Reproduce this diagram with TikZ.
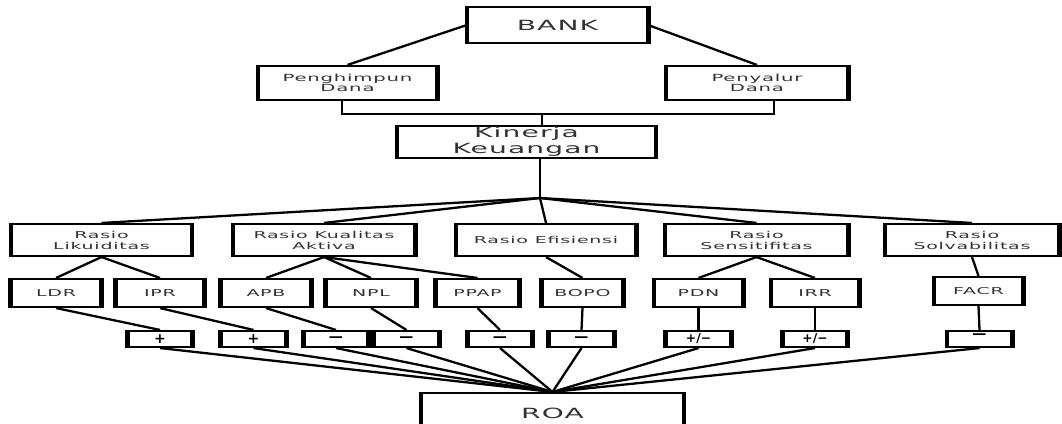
\documentclass[tikz,border=0pt]{standalone}
\usepackage{fontspec}
\setmainfont{DejaVu Sans}[FakeStretch=2.0, LetterSpace=8]
\newfontfamily\tandafont{DejaVu Sans}
\usepackage{tikz}
\definecolor{Teks}{RGB}{50,50,50}
\newcommand{\hurufbesar}{\fontsize{8}{9}\selectfont}
\newcommand{\hurufsedang}{\fontsize{5.6}{5.7}\selectfont}
\newcommand{\hurufkecil}{\fontsize{5.4}{6.3}\selectfont}
\tikzset{
  kotak/.style={draw=black, line width=1.2pt, inner sep=0pt, align=center, text=Teks,
    append after command={
      (\tikzlastnode.north west) edge[draw=black, line width=2.8pt] (\tikzlastnode.south west)
      (\tikzlastnode.north east) edge[draw=black, line width=2.8pt] (\tikzlastnode.south east)}},
  rasio/.style={kotak, minimum height=0.64cm, font=\hurufkecil},
  indikator/.style={kotak, minimum height=0.56cm, font=\hurufkecil},
  tanda/.style={kotak, minimum width=1.26cm, minimum height=0.32cm, text=black,
    font=\tandafont\bfseries\fontsize{8}{8}\selectfont},
  garis/.style={draw=black, line width=1.3pt},
}

\begin{document}
\begin{tikzpicture}[x=0.02cm, y=-0.02cm]
  \useasboundingbox (0,0) rectangle (1062,423);
  \clip (0,0) rectangle (1062,423);

  % bank dan fungsinya
  \node[kotak, minimum width=3.58cm, minimum height=0.72cm, font=\hurufbesar] (bank) at (557.5,25) {BANK};
  \node[kotak, minimum width=3.54cm, minimum height=0.68cm, font=\hurufsedang] (hmp) at (347.5,83) {Penghimpun\\Dana};
  \node[kotak, minimum width=3.6cm, minimum height=0.68cm, font=\hurufsedang] (slr) at (757,83) {Penyalur\\Dana};
  \node[kotak, minimum width=5.14cm, minimum height=0.64cm, font=\fontsize{8}{9}\selectfont] (kin) at (526.5,142) {Kinerja\\Keuangan};
  \coordinate (bus) at (542,114);
  \coordinate (j) at (540,198);

  % rasio
  \node[rasio, minimum width=3.58cm] (lik) at (101.5,240) {Rasio\\Likuiditas};
  \node[rasio, minimum width=3.6cm] (kual) at (324,240) {Rasio Kualitas\\Aktiva};
  \node[rasio, minimum width=3.56cm] (efi) at (546,240) {Rasio Efisiensi};
  \node[rasio, minimum width=3.62cm] (sen) at (756.5,240) {Rasio\\Sensitifitas};
  \node[rasio, minimum width=3.44cm] (sol) at (972,240) {Rasio\\Solvabilitas};

  % indikator
  \node[indikator, minimum width=1.76cm] (ldr) at (56,293) {LDR};
  \node[indikator, minimum width=1.72cm] (ipr) at (160,293) {IPR};
  \node[indikator, minimum width=1.76cm] (apb) at (266,293) {APB};
  \node[indikator, minimum width=1.76cm] (npl) at (371,293) {NPL};
  \node[indikator, minimum width=1.62cm] (ppap) at (477.5,293) {PPAP};
  \node[indikator, minimum width=1.58cm] (bopo) at (582.5,293) {BOPO};
  \node[indikator, minimum width=1.74cm] (pdn) at (698.5,293) {PDN};
  \node[indikator, minimum width=1.72cm] (irr) at (815,293) {IRR};
  \node[indikator, minimum width=1.74cm] (facr) at (978.5,291) {FACR};

  % tanda pengaruh
  \node[tanda] (s1) at (160,339) {+};
  \node[tanda] (s2) at (253.5,339) {+};
  \node[tanda] (s3) at (336,339) {—};
  \node[tanda] (s4) at (406.5,339) {—};
  \node[tanda] (s5) at (500,339) {—};
  \node[tanda] (s6) at (581.5,339) {—};
  \node[tanda, font=\tandafont\bfseries\fontsize{7}{7}\selectfont] (s7) at (698.5,339) {+/−};
  \node[tanda, font=\tandafont\bfseries\fontsize{7}{7}\selectfont] (s8) at (815,339) {+/−};
  \node[tanda] (s9) at (979.5,339) {\raisebox{0.1cm}{—}};

  \node[kotak, minimum width=5.22cm, minimum height=0.8cm, font=\hurufbesar] (roa) at (552.5,413) {ROA};

  % garis
  \draw[garis] (bank.west) -- (hmp.north);
  \draw[garis] (bank.east) -- (slr.north);
  \draw[garis] ([xshift=-0.11cm]hmp.south) |- (bus) -| ([xshift=0.34cm]slr.south);
  \draw[garis] (bus) -- (bus |- kin.north);
  \draw[garis] (j |- kin.south) -- (j);
  \foreach \r in {lik,kual,efi,sen,sol}
    \draw[garis] (j) -- (\r.north);
  \draw[garis] (lik.south) -- (ldr.north);
  \draw[garis] (lik.south) -- (ipr.north);
  \draw[garis] (kual.south) -- (apb.north);
  \draw[garis] (kual.south) -- (npl.north);
  \draw[garis] (kual.south) -- (ppap.north);
  \draw[garis] (efi.south) -- (bopo.north);
  \draw[garis] (sen.south) -- (pdn.north);
  \draw[garis] (sen.south) -- (irr.north);
  \draw[garis] (sol.south) -- (facr.north);
  \draw[garis] (ldr.south) -- (s1.north);
  \draw[garis] (ipr.south) -- (s2.north);
  \draw[garis] (apb.south) -- (s3.north);
  \draw[garis] (npl.south) -- (s4.north);
  \draw[garis] (ppap.south) -- (s5.north);
  \draw[garis] (bopo.south) -- (s6.north);
  \draw[garis] (pdn.south) -- (s7.north);
  \draw[garis] (irr.south) -- (s8.north);
  \draw[garis] (facr.south) -- (s9.north);
  \foreach \s in {s1,s2,s3,s4,s5,s6,s7,s8,s9}
    \draw[garis] (\s.south) -- (roa.north);
\end{tikzpicture}
\end{document}
